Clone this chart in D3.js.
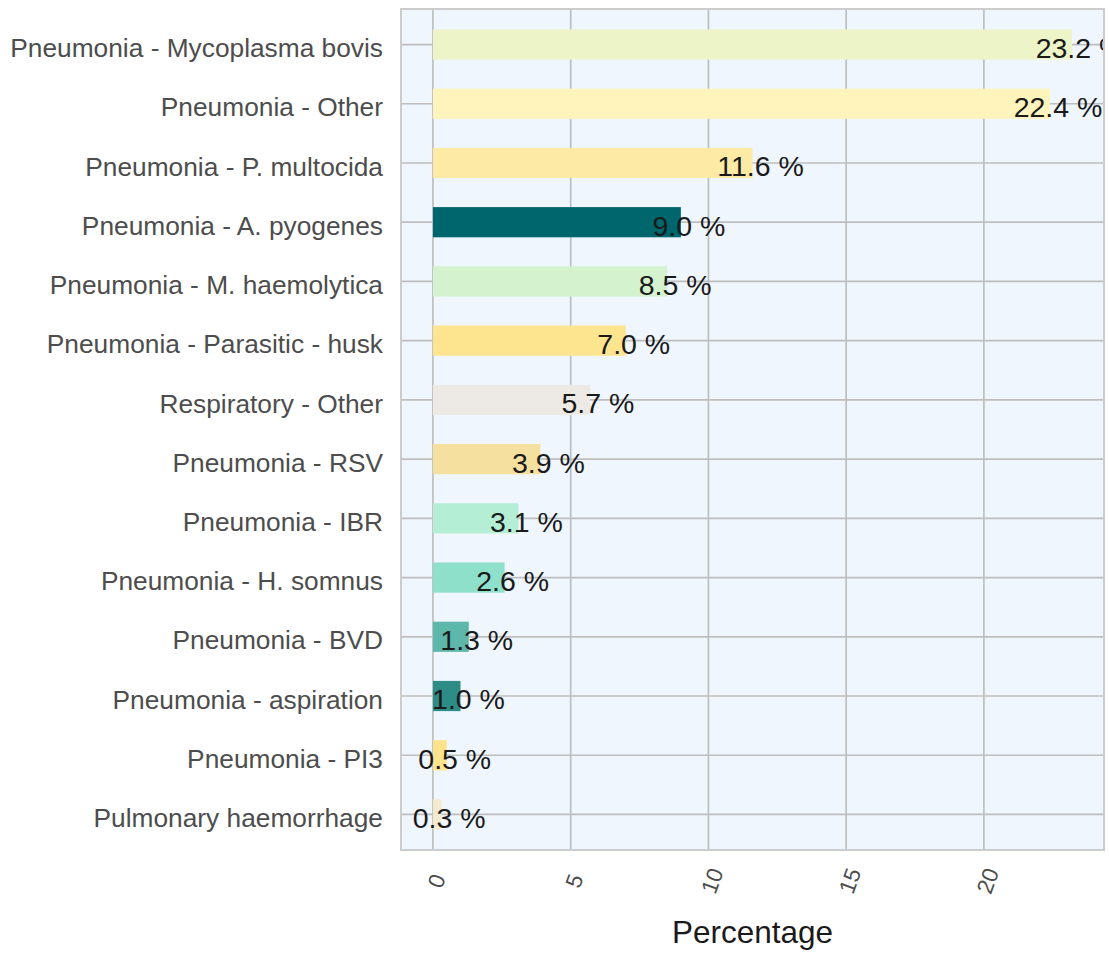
<!DOCTYPE html>
<html>
<head>
<meta charset="utf-8">
<script src="https://cdn.jsdelivr.net/npm/d3@7"></script>
<style>
  body { margin: 0; background: #ffffff; }
  svg { display: block; font-family: "Liberation Sans", Arial, sans-serif; }
</style>
</head>
<body>
<div id="chart"></div>
<script>
// categories top to bottom
const causes = [
    'Pneumonia - Mycoplasma bovis',
    'Pneumonia - Other',
    'Pneumonia - P. multocida',
    'Pneumonia - A. pyogenes',
    'Pneumonia - M. haemolytica',
    'Pneumonia - Parasitic - husk',
    'Respiratory - Other',
    'Pneumonia - RSV',
    'Pneumonia - IBR',
    'Pneumonia - H. somnus',
    'Pneumonia - BVD',
    'Pneumonia - aspiration',
    'Pneumonia - PI3',
    'Pulmonary haemorrhage'
];

const percents = [23.2, 22.4, 11.6, 9.0, 8.5, 7.0, 5.7, 3.9, 3.1, 2.6, 1.3, 1.0, 0.5, 0.3];

const barColours = [
    '#EDF5C8', '#FEF4BC', '#FDEAA4', '#00666D', '#D4F2CE', '#FDE48F', '#EDEAE6',
    '#F6E0A0', '#B4EED4', '#8EE0CB', '#5DB7AA', '#2E8C87', '#FFE38A', '#F4E9CF'
];

const xTicks = [0, 5, 10, 15, 20];

const width = 1109;
const height = 953;
const panel = {left: 401, right: 1104, top: 9, bottom: 850};

const data = causes.map((c, i) => ({cause: c, pct: percents[i], colour: barColours[i]}));

// ggplot style 5% expansion on the value axis
const maxPct = d3.max(percents);
const xScale = d3.scaleLinear()
    .domain([-0.05 * maxPct, maxPct * 1.05])
    .range([panel.left, panel.right]);

const yScale = d3.scalePoint()
    .domain(causes)
    .range([panel.top, panel.bottom])
    .padding(0.6);

const barHeight = yScale.step() * 0.51;

let svg = d3.select('#chart')
    .append('svg')
        .attr('width', width)
        .attr('height', height);

svg.append('defs').append('clipPath')
    .attr('id', 'panelClip')
    .append('rect')
        .attr('x', panel.left)
        .attr('y', panel.top)
        .attr('width', panel.right - panel.left)
        .attr('height', panel.bottom - panel.top);

// panel background
svg.append('rect')
    .attr('x', panel.left)
    .attr('y', panel.top)
    .attr('width', panel.right - panel.left)
    .attr('height', panel.bottom - panel.top)
    .attr('fill', '#EFF6FE');

// grid lines
let grid = svg.append('g').attr('stroke', '#BEBEBE').attr('stroke-width', 1.7);

grid.selectAll('line.v')
    .data(xTicks)
    .enter()
        .append('line')
            .attr('class', 'v')
            .attr('x1', (d) => xScale(d))
            .attr('x2', (d) => xScale(d))
            .attr('y1', panel.top)
            .attr('y2', panel.bottom);

grid.selectAll('line.h')
    .data(causes)
    .enter()
        .append('line')
            .attr('class', 'h')
            .attr('x1', panel.left)
            .attr('x2', panel.right)
            .attr('y1', (d) => yScale(d))
            .attr('y2', (d) => yScale(d));

// bars
svg.append('g')
    .selectAll('rect')
    .data(data)
    .enter()
        .append('rect')
            .attr('x', xScale(0))
            .attr('y', (d) => yScale(d.cause) - barHeight / 2)
            .attr('width', (d) => xScale(d.pct) - xScale(0))
            .attr('height', barHeight)
            .attr('fill', (d) => d.colour);

// value labels, clipped to the panel like the original (23.2 % runs off the edge there too)
svg.append('g')
    .attr('clip-path', 'url(#panelClip)')
    .selectAll('text')
    .data(data)
    .enter()
        .append('text')
            .attr('x', (d) => xScale(d.pct) + 8)
            .attr('y', (d) => yScale(d.cause))
            .attr('dy', '0.47em')
            .attr('text-anchor', 'middle')
            .attr('font-size', '28.5px')
            .attr('fill', '#1A1A1A')
            .text((d) => d.pct.toFixed(1) + ' %');

// panel border
svg.append('rect')
    .attr('x', panel.left)
    .attr('y', panel.top)
    .attr('width', panel.right - panel.left)
    .attr('height', panel.bottom - panel.top)
    .attr('fill', 'none')
    .attr('stroke', '#CCCCCC')
    .attr('stroke-width', 2);

// y axis labels
svg.append('g')
    .selectAll('text')
    .data(causes)
    .enter()
        .append('text')
            .attr('x', panel.left - 18)
            .attr('y', (d) => yScale(d))
            .attr('dy', '0.48em')
            .attr('text-anchor', 'end')
            .attr('font-size', '26.3px')
            .attr('fill', '#4D4D4D')
            .text((d) => d);

// x tick labels, rotated
svg.append('g')
    .selectAll('text')
    .data(xTicks)
    .enter()
        .append('text')
            .attr('transform', (d) => `translate(${xScale(d) + 4}, 881) rotate(-70)`)
            .attr('text-anchor', 'middle')
            .attr('dominant-baseline', 'central')
            .attr('font-size', '22.5px')
            .attr('fill', '#4D4D4D')
            .text((d) => d);

// axis title
svg.append('text')
    .attr('x', (panel.left + panel.right) / 2)
    .attr('y', 943)
    .attr('text-anchor', 'middle')
    .attr('font-size', '31.5px')
    .attr('fill', '#1A1A1A')
    .text('Percentage');
</script>
</body>
</html>
